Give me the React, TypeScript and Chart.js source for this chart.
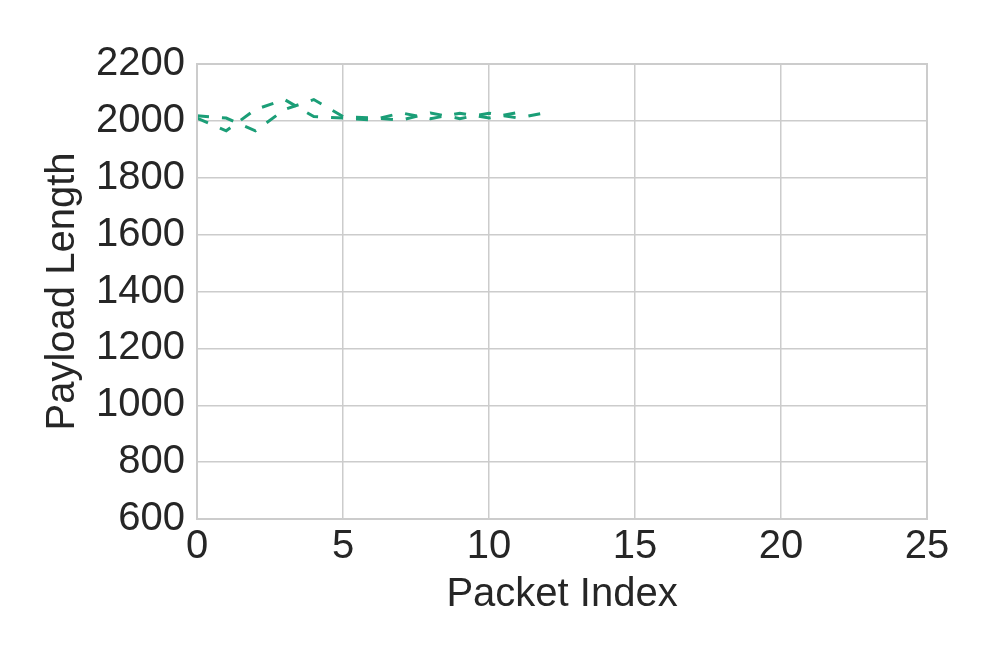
import React, { useEffect, useRef } from "react";
import { Chart, registerables } from "chart.js";

Chart.register(...registerables);

const packetIndexA = [0, 1, 2, 3, 4, 5, 6, 7, 8, 9, 10, 11, 12];
const payloadA = [2018, 2010, 1965, 2040, 2075, 2015, 2010, 2003, 2028, 2008, 2027, 2010, 2030];
const packetIndexB = [0, 1, 2, 3, 4, 5, 6, 7, 8, 9, 10, 11];
const payloadB = [2010, 1965, 2040, 2075, 2015, 2010, 2003, 2028, 2008, 2027, 2010, 2030];
const xTicks = [0, 5, 10, 15, 20, 25];
const yTicks = [600, 800, 1000, 1200, 1400, 1600, 1800, 2000, 2200];

const LINE_COLOR = "#1b9e77";
const TEXT_COLOR = "#262626";
const GRID_COLOR = "#cccccc";
const FONT = "'Liberation Sans', Arial, sans-serif";

export default function App() {
  const ref = useRef<HTMLCanvasElement | null>(null);

  useEffect(() => {
    if (!ref.current) return;
    const mk = (xs: number[], ys: number[]) => xs.map((x, i) => ({ x, y: ys[i] }));
    const chart = new Chart(ref.current, {
      type: "line",
      data: {
        datasets: [
          {
            data: mk(packetIndexA, payloadA),
            borderColor: LINE_COLOR,
            borderWidth: 3,
            borderDash: [12, 13],
            pointRadius: 0,
            tension: 0,
            fill: false,
          },
          {
            data: mk(packetIndexB, payloadB),
            borderColor: LINE_COLOR,
            borderWidth: 3,
            borderDash: [12, 13],
            pointRadius: 0,
            tension: 0,
            fill: false,
          },
        ],
      },
      options: {
        responsive: false,
        animation: false,
        layout: { padding: { left: 35, right: 70, top: 64, bottom: 41 } },
        plugins: { legend: { display: false }, tooltip: { enabled: false } },
        scales: {
          x: {
            type: "linear",
            min: 0,
            max: 25,
            afterBuildTicks: (s: any) => {
              s.ticks = xTicks.map((v) => ({ value: v }));
            },
            afterFit: (s: any) => {
              s.height = 104;
            },
            ticks: {
              color: TEXT_COLOR,
              font: { family: FONT, size: 40 },
              padding: 4,
              maxRotation: 0,
              callback: (v: any) => String(v),
            },
            grid: { color: GRID_COLOR, lineWidth: 1.5, drawTicks: false },
            border: { color: GRID_COLOR, width: 2 },
            title: {
              display: true,
              text: "Packet Index",
              color: TEXT_COLOR,
              font: { family: FONT, size: 40 },
            },
          },
          y: {
            type: "linear",
            min: 600,
            max: 2200,
            afterBuildTicks: (s: any) => {
              s.ticks = yTicks.map((v) => ({ value: v }));
            },
            afterFit: (s: any) => {
              s.width = 162;
            },
            ticks: {
              color: TEXT_COLOR,
              font: { family: FONT, size: 40 },
              padding: 12,
              callback: (v: any) => String(v),
            },
            grid: { color: GRID_COLOR, lineWidth: 1.5, drawTicks: false },
            border: { color: GRID_COLOR, width: 2 },
            title: {
              display: true,
              text: "Payload Length",
              color: TEXT_COLOR,
              font: { family: FONT, size: 40 },
            },
          },
        },
      },
      plugins: [
        {
          id: "frame",
          afterDraw: (c: any) => {
            const { ctx, chartArea: a } = c;
            ctx.save();
            ctx.strokeStyle = GRID_COLOR;
            ctx.lineWidth = 2;
            ctx.strokeRect(a.left, a.top, a.right - a.left, a.bottom - a.top);
            ctx.restore();
          },
        },
      ],
    });
    return () => chart.destroy();
  }, []);

  return (
    <div style={{ position: "fixed", left: 0, top: 0, width: 997, height: 664, background: "#fff" }}>
      <canvas ref={ref} width={997} height={664} />
    </div>
  );
}
